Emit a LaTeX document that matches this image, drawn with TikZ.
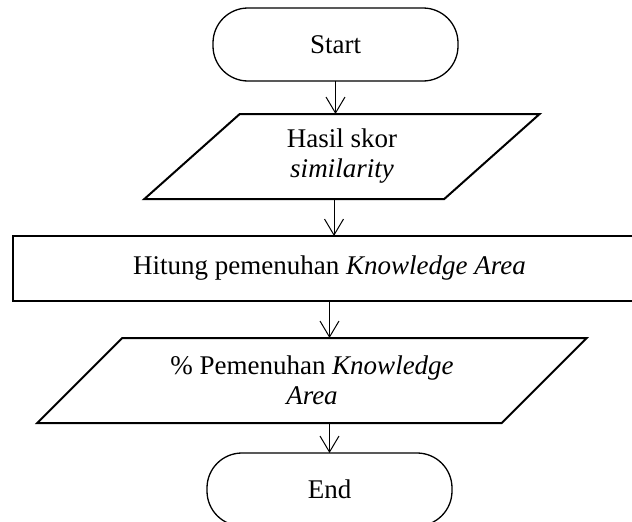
\documentclass[tikz,border=0pt]{standalone}
\usepackage{fontspec}
\setmainfont{Liberation Serif}
\usetikzlibrary{arrows.meta,shapes.geometric}
\begin{document}
\begin{tikzpicture}[x=1pt,y=-1pt,
  every node/.style={font=\fontsize{27}{30}\selectfont, outer sep=0pt, inner sep=0pt},
  terminal/.style={draw, line width=1.3pt, rounded corners=35pt,
    minimum width=245pt, minimum height=73pt},
  iobox/.style={draw, line width=2pt, trapezium, trapezium stretches=true,
    minimum height=85pt, align=center},
  procbox/.style={draw, line width=2.2pt, minimum height=65pt},
  arr/.style={line width=1pt, -{Straight Barb[length=16pt,width=19pt]}}]
\useasboundingbox (0,0) rectangle (632,522);

% shapes of the flow
\node[terminal] (start) at (335.5,44.5) {Start};
\node[iobox, minimum width=396pt, trapezium left angle=46.7, trapezium right angle=133.3]
  (p1) at (342,156.5) {Hasil skor\\\textit{similarity}};
% the process box is open on the right: it runs past the edge of the page
\coordinate (hkw) at (13,268.5);
\node[minimum width=680pt, minimum height=65pt, anchor=west] (hk) at (hkw) {};
\draw[line width=2.2pt] (hk.north east) -- (hk.north west) -- (hk.south west) -- (hk.south east);
\node (hktext) at (329.5,268.5) {Hitung pemenuhan \textit{Knowledge Area}};
\node[iobox, minimum width=552pt, trapezium left angle=37.7, trapezium right angle=142.3]
  (p2) at (312,380.5) {\% Pemenuhan \textit{Knowledge}\\\textit{Area}};
\node[terminal] (end) at (329.5,489.5) {End};

% connectors
\draw[arr] (start.south) -- (start.south |- p1.north);
\draw[arr] ([xshift=-1.5pt]start.south |- p1.south) -- ([xshift=-1.5pt]start.south |- hk.north);
\draw[arr] (end.north |- hk.south) -- (end.north |- p2.north);
\draw[arr] (end.north |- p2.south) -- (end.north);
\end{tikzpicture}
\end{document}
